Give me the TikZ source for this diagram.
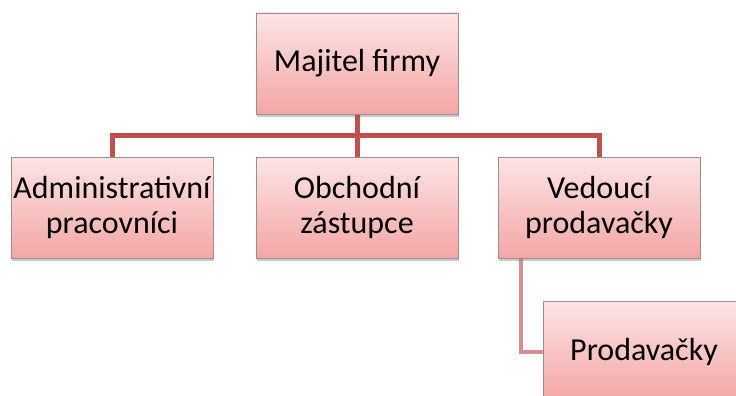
\documentclass[tikz,border=0pt]{standalone}
\usepackage{fontspec}
\setmainfont{Carlito}
\usepackage{tikz}
\usetikzlibrary{positioning,shadows,backgrounds}

\definecolor{boxtop}{RGB}{253,228,228}
\definecolor{boxbottom}{RGB}{244,166,166}
\definecolor{boxline}{RGB}{160,140,140}
\definecolor{mainlink}{RGB}{192,80,77}
\definecolor{sublink}{RGB}{214,142,142}

\begin{document}
\begin{tikzpicture}[x=1pt,y=-1pt,
  role/.style={draw=boxline,line width=.8pt,top color=boxtop,bottom color=boxbottom,
    minimum width=202pt,minimum height=101pt,inner sep=0pt,align=center,
    font=\fontsize{32}{35}\selectfont,
    drop shadow={shadow xshift=1pt,shadow yshift=-3pt,opacity=.35,fill=black!60}},
  link/.style={mainlink,line width=5pt},
  sublinkline/.style={sublink,line width=4pt}]

    \clip (0,0) rectangle (736,396);

    % top level
    \node[role](owner) at (357,63.5){Majitel firmy};
    \coordinate (bus) at (357,135);

    % second level
    \node[role](admin) at (112,207.5){Administrativní\\pracovníci};
    \node[role](agent) at (357,207.5){Obchodní\\zástupce};
    \node[role](lead) at (599,207.5){Vedoucí\\prodavačky};

    % third level
    \node[role](shop) at (644,351.5){Prodavačky};

    \begin{pgfonlayer}{background}
    \draw[link](owner.south) -- (agent.north);
    \draw[link](admin.north) |- (bus) -| (lead.north);
    \draw[sublinkline]([xshift=23pt]lead.south west) |- (shop.west);
    \end{pgfonlayer}
\end{tikzpicture}
\end{document}
